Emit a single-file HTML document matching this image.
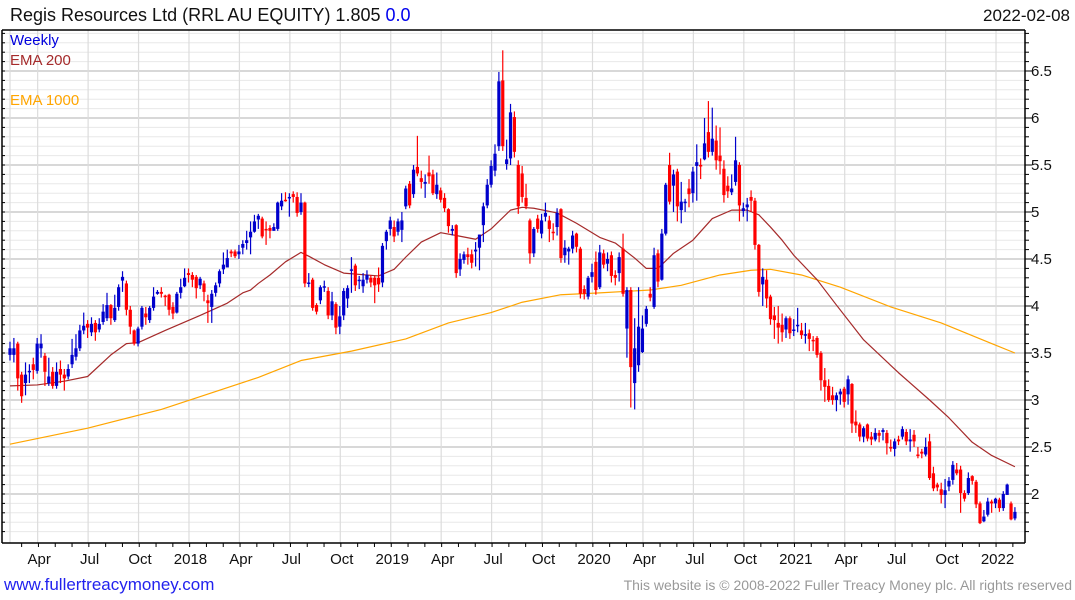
<!DOCTYPE html>
<html><head><meta charset="utf-8"><style>
body{margin:0;background:#fff;width:1075px;height:600px;overflow:hidden;font-family:"Liberation Sans",sans-serif;}
svg{display:block}
</style></head><body>
<svg id="chart" width="1075" height="600" xmlns="http://www.w3.org/2000/svg" font-family="Liberation Sans, sans-serif">
<text x="10" y="21" font-size="18" fill="#111">Regis Resources Ltd (RRL AU EQUITY) 1.805 <tspan fill="#0000ee">0.0</tspan></text>
<text x="1070" y="21" font-size="17" fill="#111" text-anchor="end">2022-02-08</text>
<g id="grid"></g>
<g id="ema1000"></g>
<g id="ema200"></g>
<g id="candles"></g>
<g id="axes"></g>
<text x="10" y="45" font-size="15" fill="#0000dd">Weekly</text>
<text x="10" y="65" font-size="15" fill="#a52a2a">EMA 200</text>
<text x="10" y="105" font-size="15" fill="#ffa500">EMA 1000</text>
<text x="4" y="590" font-size="17" fill="#2222ee">www.fullertreacymoney.com</text>
<text x="1072" y="590" font-size="14" fill="#999" text-anchor="end">This website is © 2008-2022 Fuller Treacy Money plc. All rights reserved</text>
</svg>
<script>
const opens=[3.48,3.48,3.60,3.27,3.18,3.30,3.38,3.31,3.55,3.47,3.18,3.30,3.15,3.33,3.27,3.25,3.38,3.46,3.55,3.74,3.81,3.72,3.82,3.75,3.83,3.87,4.01,3.85,3.99,4.27,4.24,3.96,3.74,3.60,3.78,3.92,3.85,3.98,4.13,4.15,4.11,4.12,3.99,3.93,4.14,4.21,4.35,4.33,4.31,4.22,4.24,4.06,3.99,4.14,4.24,4.39,4.41,4.58,4.58,4.55,4.62,4.67,4.73,4.79,4.92,4.93,4.82,4.83,4.80,4.82,5.06,5.13,5.16,5.19,5.16,5.00,5.10,4.25,4.28,4.01,4.06,4.20,4.16,3.90,4.02,3.78,3.90,4.08,4.39,4.43,4.28,4.21,4.28,4.30,4.30,4.30,4.25,4.69,4.82,4.84,4.79,4.81,5.06,5.30,5.19,5.48,5.36,5.30,5.42,5.40,5.19,5.23,5.15,5.03,4.80,4.86,4.39,4.49,4.55,4.55,4.58,4.62,4.86,5.07,5.29,5.44,5.70,6.40,5.51,5.57,6.01,5.50,5.41,5.15,4.91,4.56,4.93,4.77,4.95,4.91,4.79,4.84,5.03,4.54,4.58,4.61,4.77,4.61,4.18,4.10,4.31,4.47,4.20,4.56,4.45,4.54,4.33,4.35,4.61,3.76,4.17,3.18,3.37,3.51,3.81,4.13,3.99,4.56,4.28,4.77,5.50,5.28,5.43,5.02,5.10,5.25,5.20,5.49,5.50,5.56,5.85,5.64,5.76,5.60,5.46,5.28,5.21,5.32,5.50,5.01,5.05,5.16,5.12,4.65,4.23,4.28,4.10,3.90,3.82,3.80,3.75,3.87,3.74,3.79,3.74,3.69,3.71,3.64,3.66,3.50,3.21,3.15,3.05,3.00,3.06,3.12,3.06,3.17,2.77,2.74,2.61,2.74,2.61,2.58,2.65,2.66,2.65,2.50,2.48,2.58,2.61,2.66,2.56,2.63,2.42,2.45,2.42,2.56,2.22,2.10,2.05,1.99,2.08,2.15,2.26,2.26,2.01,2.01,2.19,2.13,1.90,1.71,1.78,1.92,1.90,1.94,1.85,1.99,1.90,1.74];
const closes=[3.55,3.55,3.23,3.04,3.27,3.31,3.32,3.60,3.60,3.30,3.25,3.15,3.30,3.27,3.23,3.33,3.48,3.55,3.74,3.79,3.77,3.81,3.72,3.81,3.94,4.01,3.87,3.98,4.20,4.31,3.96,3.78,3.60,3.76,3.98,3.88,3.98,4.10,4.15,4.13,4.11,3.96,3.92,4.13,4.20,4.30,4.33,4.28,4.19,4.29,4.15,4.03,4.13,4.22,4.37,4.44,4.51,4.56,4.53,4.58,4.66,4.70,4.79,4.90,4.96,4.74,4.81,4.80,4.84,5.10,5.12,5.12,5.16,5.16,4.99,5.10,4.24,4.25,3.98,3.94,4.20,4.21,3.90,4.05,3.77,3.89,4.16,4.19,4.39,4.22,4.28,4.28,4.33,4.25,4.22,4.23,4.64,4.79,4.91,4.74,4.90,4.91,5.25,5.07,5.45,5.41,5.32,5.32,5.38,5.20,5.29,5.13,5.04,4.85,4.82,4.35,4.50,4.55,4.52,4.46,4.60,4.76,5.06,5.29,5.49,5.62,6.39,5.70,5.56,6.06,5.64,5.06,5.16,5.06,4.56,4.82,4.82,4.91,4.99,4.82,4.79,4.99,4.51,4.62,4.61,4.75,4.63,4.13,4.13,4.30,4.36,4.17,4.57,4.44,4.50,4.32,4.30,4.52,4.13,4.17,3.35,3.55,3.78,3.76,3.97,4.09,4.54,4.26,4.77,5.29,5.11,5.40,5.06,5.11,5.11,5.19,5.43,5.53,5.50,5.73,5.64,5.78,5.55,5.54,5.18,5.22,5.25,5.55,5.07,5.04,5.08,5.12,4.65,4.15,4.31,4.08,3.86,3.85,3.77,3.72,3.87,3.71,3.75,3.80,3.69,3.70,3.65,3.63,3.48,3.21,3.14,3.00,3.00,3.05,3.09,2.98,3.22,2.75,2.73,2.61,2.70,2.59,2.58,2.65,2.62,2.68,2.54,2.50,2.56,2.56,2.69,2.56,2.58,2.56,2.42,2.43,2.50,2.17,2.06,2.07,1.99,2.04,2.14,2.31,2.22,2.01,1.95,2.17,2.14,1.89,1.69,1.76,1.92,1.90,1.95,1.85,2.00,2.10,1.73,1.81];
const highs=[3.62,3.66,3.62,3.30,3.40,3.38,3.45,3.66,3.70,3.50,3.45,3.35,3.40,3.42,3.33,3.38,3.65,3.70,3.80,3.93,3.85,3.88,3.85,3.87,4.02,4.14,4.02,4.12,4.23,4.37,4.27,4.00,3.75,3.78,4.00,3.99,4.00,4.20,4.17,4.20,4.12,4.13,4.04,4.15,4.29,4.40,4.40,4.36,4.33,4.31,4.27,4.12,4.17,4.25,4.39,4.57,4.60,4.60,4.60,4.65,4.70,4.80,4.90,4.97,4.98,4.95,4.90,4.86,4.88,5.11,5.20,5.21,5.20,5.22,5.21,5.20,5.11,4.35,4.30,4.03,4.22,4.27,4.20,4.15,4.04,4.00,4.19,4.22,4.52,4.45,4.32,4.35,4.38,4.33,4.32,4.41,4.67,4.81,4.95,4.91,4.93,5.00,5.28,5.33,5.50,5.81,5.44,5.40,5.60,5.45,5.42,5.26,5.20,5.04,4.86,4.87,4.56,4.58,4.62,4.60,4.68,4.76,5.10,5.35,5.55,5.72,6.49,6.72,5.77,6.15,6.07,5.55,5.49,5.30,4.93,4.84,4.97,4.98,5.10,4.96,4.88,5.04,5.04,4.70,4.63,4.80,4.78,4.63,4.22,4.32,4.45,4.58,4.65,4.60,4.57,4.58,4.38,4.57,4.77,4.20,4.20,3.87,4.20,3.90,4.00,4.20,4.62,4.60,4.82,5.31,5.63,5.45,5.46,5.32,5.14,5.35,5.48,5.72,5.57,6.00,6.18,6.11,5.92,5.90,5.55,5.38,5.40,5.80,5.53,5.10,5.15,5.23,5.15,4.66,4.40,4.38,4.12,3.99,4.00,3.92,3.89,3.89,3.86,3.98,3.82,3.82,3.75,3.68,3.68,3.52,3.34,3.22,3.14,3.08,3.12,3.14,3.26,3.18,2.89,2.76,2.72,2.75,2.66,2.70,2.68,2.70,2.68,2.58,2.59,2.62,2.72,2.69,2.69,2.68,2.50,2.48,2.60,2.64,2.29,2.12,2.12,2.16,2.18,2.35,2.33,2.30,2.04,2.23,2.20,2.15,1.92,1.83,1.96,1.94,1.96,1.96,2.03,2.11,1.92,1.86];
const lows=[3.42,3.40,3.10,2.97,3.05,3.18,3.22,3.28,3.45,3.15,3.15,3.12,3.12,3.18,3.10,3.22,3.34,3.42,3.52,3.70,3.66,3.68,3.63,3.72,3.80,3.84,3.80,3.83,3.95,4.15,3.90,3.70,3.58,3.57,3.75,3.80,3.82,3.95,4.12,4.09,4.00,3.90,3.86,3.92,4.08,4.20,4.25,4.20,4.08,4.18,4.05,3.82,3.82,4.10,4.20,4.34,4.42,4.52,4.51,4.50,4.55,4.60,4.55,4.78,4.82,4.72,4.65,4.72,4.80,4.80,5.02,5.11,4.95,5.10,4.95,4.97,4.20,4.20,3.95,3.91,4.02,4.15,3.86,3.85,3.70,3.70,3.85,3.98,4.14,4.16,4.18,4.14,4.24,4.20,4.03,4.15,4.20,4.60,4.75,4.68,4.75,4.68,5.03,5.04,5.15,5.38,5.25,5.15,5.30,5.18,5.14,5.10,5.00,4.78,4.75,4.30,4.32,4.45,4.44,4.40,4.42,4.38,4.68,5.04,5.26,5.38,5.65,5.65,5.45,5.50,5.58,4.98,5.10,5.03,4.45,4.52,4.78,4.72,4.90,4.68,4.70,4.75,4.46,4.46,4.44,4.56,4.57,4.08,4.07,4.07,4.25,4.12,4.18,4.40,4.37,4.25,4.22,4.26,4.10,3.45,2.92,2.90,3.30,3.50,3.78,4.05,3.97,4.20,4.27,4.75,5.08,5.00,4.90,4.88,5.00,5.05,5.10,5.12,5.35,5.55,5.58,5.60,5.45,5.40,5.10,5.15,5.18,5.28,4.90,4.95,4.90,5.00,4.60,4.10,4.00,3.98,3.80,3.65,3.60,3.62,3.66,3.65,3.68,3.72,3.65,3.60,3.52,3.52,3.45,3.10,2.98,2.98,2.95,2.88,2.95,2.92,2.95,2.65,2.65,2.56,2.55,2.56,2.52,2.56,2.55,2.57,2.42,2.45,2.40,2.52,2.58,2.52,2.45,2.50,2.38,2.38,2.40,2.15,2.03,2.03,1.90,1.85,2.03,2.10,2.20,1.80,1.92,1.99,2.10,1.85,1.68,1.70,1.76,1.80,1.85,1.81,1.82,2.00,1.72,1.72];
const ema200Weeks=[0,7,14,20,26,30,33,40,49,56,60,62,64,67,71,75,77,81,86,95,99,102,106,111,115,120,124,129,132,135,141,146,152,156,161,164,167,171,176,181,186,190,193,196,199,202,208,213,220,229,237,242,248,253,259];
const ema200Values=[3.15,3.16,3.20,3.25,3.48,3.60,3.61,3.74,3.90,4.03,4.14,4.17,4.24,4.33,4.47,4.57,4.53,4.44,4.35,4.32,4.39,4.52,4.68,4.78,4.75,4.71,4.82,5.02,5.05,5.04,4.99,4.88,4.73,4.67,4.51,4.40,4.40,4.56,4.70,4.93,5.02,5.02,4.97,4.84,4.70,4.54,4.28,4.01,3.64,3.29,3.00,2.81,2.55,2.41,2.29];
const ema1000Weeks=[0,20,39,64,75,88,102,113,124,132,142,152,165,173,183,191,196,204,214,227,240,253,259];
const ema1000Values=[2.53,2.70,2.90,3.24,3.42,3.52,3.65,3.82,3.93,4.04,4.12,4.14,4.17,4.22,4.33,4.38,4.39,4.33,4.20,3.99,3.82,3.60,3.50];
const yTicks=["2","2.5","3","3.5","4","4.5","5","5.5","6","6.5"];
const xTickLabels=["Apr","Jul","Oct","2018","Apr","Jul","Oct","2019","Apr","Jul","Oct","2020","Apr","Jul","Oct","2021","Apr","Jul","Oct","2022"];
const xTickWeeks=[7,20,33,46,59,72,85,98,111,124,137,150,163,176,189,202,215,228,241,254];

const NS="http://www.w3.org/2000/svg";
const L=2,R=1025,T=30,B=543;
function xs(w){return 10+w*3.88;}
function ys(v){return 494-(v-2)*94;}
function mk(parent,tag,attrs){const e=document.createElementNS(NS,tag);for(const k in attrs)e.setAttribute(k,attrs[k]);parent.appendChild(e);return e;}
const grid=document.getElementById('grid');
for(let v=1.6;v<=6.95;v+=0.1){const y=ys(v);if(y<T||y>B)continue;const major=Math.abs(v*2-Math.round(v*2))<0.01;
 const ln=mk(grid,'line',{x1:L,x2:R,y1:y,y2:y,stroke:major?'#c0c0c0':'#e8e8e8','stroke-width':major?1.3:1});
 
 }
const vg=mk(grid,'line',{x1:10,x2:10,y1:T,y2:B,stroke:'#dcdcdc','stroke-width':1.2});


xTickWeeks.forEach(w=>{const x=xs(w)+0.5;const l=mk(grid,'line',{x1:x,x2:x,y1:T,y2:B,stroke:'#dcdcdc','stroke-width':1.2});
 
 });
function poly(gid,weeks,vals,color){const g=document.getElementById(gid);
 const p=mk(g,'polyline',{points:weeks.map((w,i)=>xs(w)+','+ys(vals[i])).join(' '),fill:'none',stroke:color,'stroke-width':1.2,'stroke-linejoin':'round'});
 
 }
poly('ema1000',ema1000Weeks,ema1000Values,'#ffa500');
poly('ema200',ema200Weeks,ema200Values,'#a52a2a');
const cg=document.getElementById('candles');
closes.forEach((c,i)=>{const o=opens[i];const up=c>o||(c===o&&(i===0||c>=closes[i-1]));const col=up?'#0000cc':'#ff0000';const x=xs(i);
 const w=mk(cg,'line',{x1:x,x2:x,y1:ys(highs[i]),y2:ys(lows[i]),stroke:col,'stroke-width':1.2});
 
 
 const top=ys(Math.max(o,c)),bot=ys(Math.min(o,c));
 const b=mk(cg,'rect',{x:x-1.6,y:top,width:3.2,height:Math.max(1.5,bot-top),fill:col});
 
 });
const ax=document.getElementById('axes');
mk(ax,'line',{x1:L,x2:R,y1:T,y2:T,stroke:'#000','stroke-width':1.5});
mk(ax,'line',{x1:L,x2:R,y1:B,y2:B,stroke:'#000','stroke-width':1.5});
mk(ax,'line',{x1:L,x2:L,y1:T,y2:B,stroke:'#000','stroke-width':1.5});
mk(ax,'line',{x1:R,x2:R,y1:T,y2:B,stroke:'#000','stroke-width':1.5});
for(let v=1.6;v<=6.95;v+=0.1){const y=ys(v);if(y<T||y>B)continue;mk(ax,'line',{x1:R,x2:R+4,y1:y,y2:y,stroke:'#000'});mk(ax,'line',{x1:L,x2:L+3,y1:y,y2:y,stroke:'#000'});}
yTicks.forEach(t=>{const y=ys(parseFloat(t));mk(ax,'line',{x1:R,x2:R+7,y1:y,y2:y,stroke:'#000'});
 const tx=mk(ax,'text',{x:1031,y:y+5,'font-size':15,fill:'#111'});tx.textContent=t;
 
 });
for(let w=3;w<260;w+=4.33){mk(ax,'line',{x1:xs(w),x2:xs(w),y1:B,y2:B+4,stroke:'#000'});}
xTickLabels.forEach((t,i)=>{const x=xs(xTickWeeks[i])+2;
 const tx=mk(ax,'text',{x:x,y:564,'font-size':15,fill:'#111','text-anchor':'middle'});tx.textContent=t;
 
 });
</script>
</body></html>
